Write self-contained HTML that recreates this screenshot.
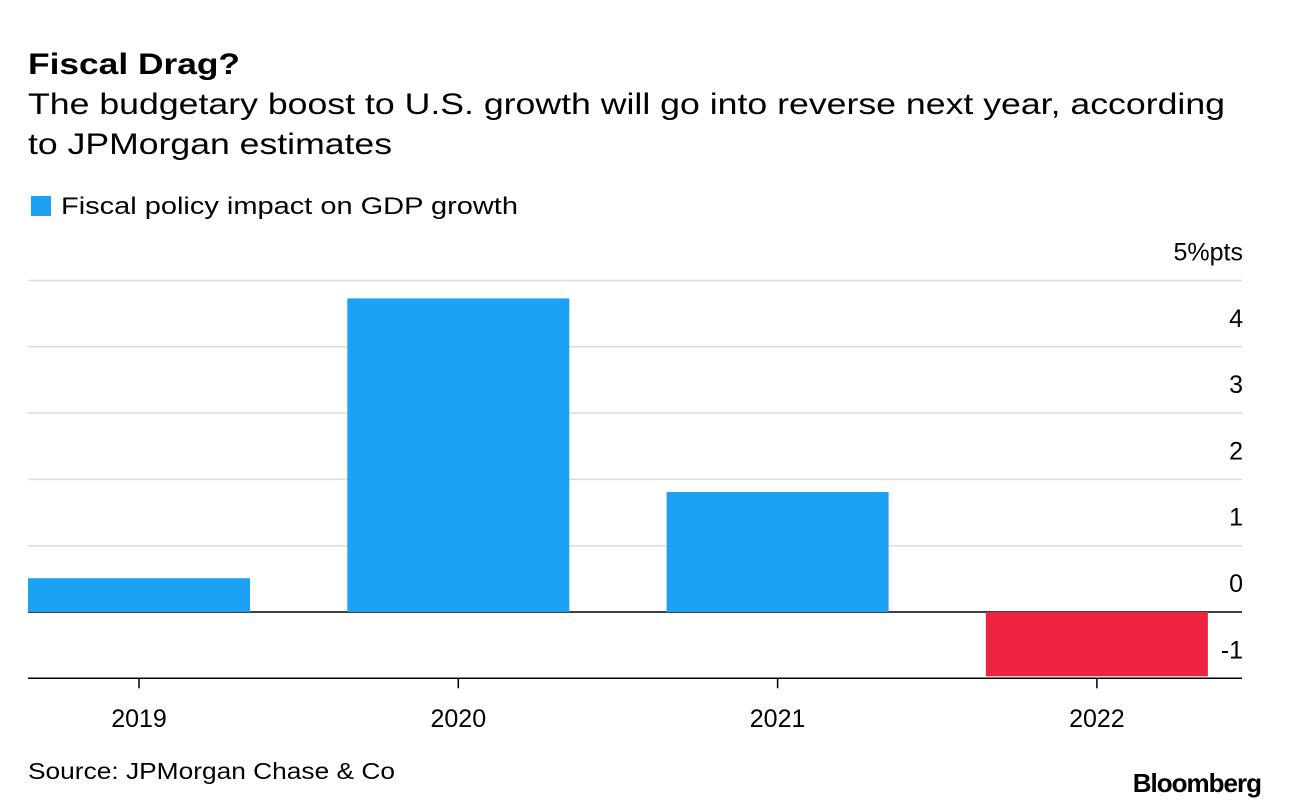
<!DOCTYPE html>
<html><head><meta charset="utf-8"><style>
body{margin:0;background:#fff;font-family:"Liberation Sans",Arial,sans-serif;}
svg{display:block}
</style></head><body>
<svg width="1289" height="810" id="chart">
<text x="28" y="74" font-size="30" font-weight="bold" fill="#000" textLength="212" lengthAdjust="spacingAndGlyphs">Fiscal Drag?</text>
<text x="28" y="114" font-size="30" fill="#000" textLength="1197" lengthAdjust="spacingAndGlyphs">The budgetary boost to U.S. growth will go into reverse next year, according</text>
<text x="28" y="154" font-size="30" fill="#000" textLength="364" lengthAdjust="spacingAndGlyphs">to JPMorgan estimates</text>
<rect x="31" y="196" width="20" height="20" fill="#1da1f5"/>
<text x="61" y="214" font-size="24" fill="#000" textLength="457" lengthAdjust="spacingAndGlyphs">Fiscal policy impact on GDP growth</text>
<g id="grid"></g><g id="bars"></g><g id="axes"></g>
<text x="28" y="779" font-size="23" fill="#000" textLength="367" lengthAdjust="spacingAndGlyphs">Source: JPMorgan Chase &amp; Co</text>
<text x="1261" y="792" font-size="26" font-weight="bold" fill="#000" text-anchor="end" letter-spacing="-1">Bloomberg</text>
</svg>
<script>
const categories=["2019","2020","2021","2022"];
const values=[0.51,4.73,1.81,-0.97];
const yTicks=[-1,0,1,2,3,4,5];
const yTickLabels=["-1","0","1","2","3","4","5%pts"];
const NS="http://www.w3.org/2000/svg";
const x0=28,x1=1242,yZero=612,unit=66.3;
function y(v){return yZero-v*unit;}
const step=319.3;
function xc(i){return 139+step*i;}
function mk(t,a,p){const e=document.createElementNS(NS,t);for(const k in a)e.setAttribute(k,a[k]);document.getElementById(p).appendChild(e);return e;}
yTicks.forEach((t,i)=>{
 const dark=(t===0||t===-1);
 const l=mk("line",{x1:x0,x2:x1,y1:y(t),y2:y(t),stroke:dark?"#000":"#dcdcdc","stroke-width":1.5},"grid");
 
 
 const tx=mk("text",{x:1243,y:y(t)-20,"font-size":25,"text-anchor":"end",fill:"#000"},"axes");
 tx.textContent=yTickLabels[i];
 
 
});
categories.forEach((c,i)=>{
 const v=values[i];const w=222;
 const r=mk("rect",{x:xc(i)-w/2,y:Math.min(y(v),yZero),width:w,height:Math.abs(y(v)-yZero),fill:v>=0?"#1da1f5":"#ee2340"},"bars");
 
 
 const tk=mk("line",{x1:xc(i),x2:xc(i),y1:y(-1),y2:y(-1)+10,stroke:"#000","stroke-width":1.5},"axes");
 
 
 const tl=mk("text",{x:xc(i),y:727,"font-size":25,"text-anchor":"middle",fill:"#000"},"axes");
 tl.textContent=c;
 
 
});
</script>
</body></html>
